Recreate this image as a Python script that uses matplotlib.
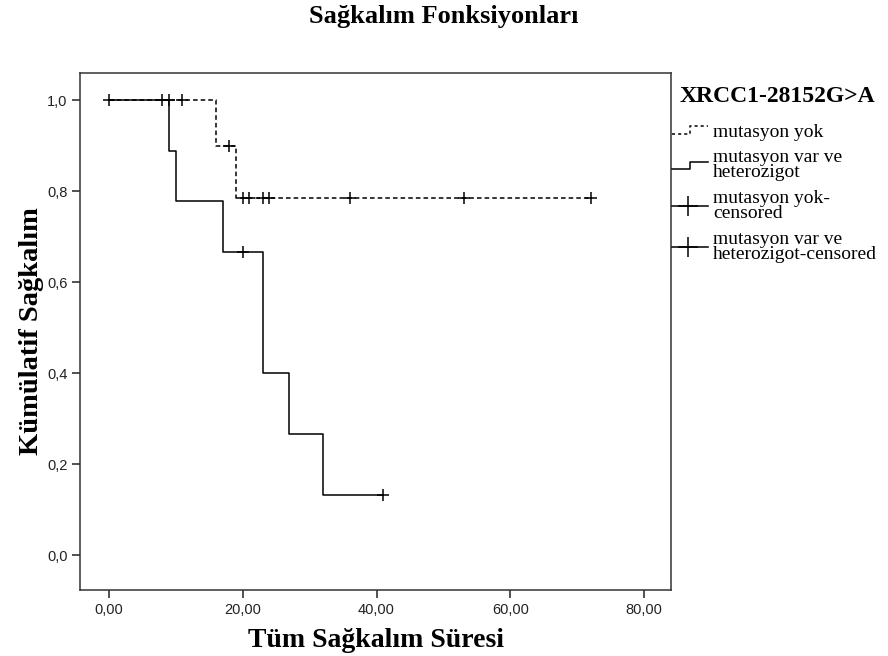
import matplotlib
matplotlib.use("Agg")
import matplotlib.pyplot as plt
from matplotlib.lines import Line2D
from matplotlib.legend_handler import HandlerBase

# Kaplan-Meier steps
yok_t = [0, 16, 19, 72]
yok_s = [1.0, 0.9, 0.786, 0.786]
yok_cens_t = [0, 8, 9, 11, 18, 20, 21, 23, 24, 36, 53, 72]
yok_cens_s = [1.0, 1.0, 1.0, 1.0, 0.9, 0.786, 0.786, 0.786, 0.786, 0.786, 0.786, 0.786]

var_t = [0, 9, 10, 17, 23, 27, 32, 41]
var_s = [1.0, 0.889, 0.778, 0.667, 0.4, 0.267, 0.133, 0.133]
var_cens_t = [20, 41]
var_cens_s = [0.667, 0.133]

xticks = [0, 20, 40, 60, 80]
yticks = [0.0, 0.2, 0.4, 0.6, 0.8, 1.0]
labels = ["mutasyon yok", "mutasyon var ve\nheterozigot",
          "mutasyon yok-\ncensored", "mutasyon var ve\nheterozigot-censored"]

serif = "Liberation Serif"
sans = "Liberation Sans"
W, H = 888, 656

fig = plt.figure(figsize=(W / 100, H / 100), dpi=100)
ax = fig.add_axes([80 / W, 1 - 590 / H, 591 / W, 517 / H])

ax.step(yok_t, yok_s, where="post", color="black", lw=1.1, ls=(0, (3, 2)))
ax.step(var_t, var_s, where="post", color="black", lw=1.1)
ax.plot(yok_cens_t, yok_cens_s, ls="none", marker="+", ms=8, mew=1.1, color="black")
ax.plot(var_cens_t, var_cens_s, ls="none", marker="+", ms=8, mew=1.1, color="black")

ax.set_xlim(-4.3, 84.0)
ax.set_ylim(-0.076, 1.060)
ax.set_xticks(xticks)
ax.set_xticklabels([f"{v:.2f}".replace(".", ",") for v in xticks], fontfamily=sans, fontsize=10.5)
ax.set_yticks(yticks)
ax.set_yticklabels([f"{v:.1f}".replace(".", ",") for v in yticks], fontfamily=sans, fontsize=10.5)
ax.tick_params(direction="out", length=6, width=1.1, colors="#222222", pad=3)
for sp in ax.spines.values():
    sp.set_color("#333333")
    sp.set_linewidth(1.1)

ax.set_xlabel("Tüm Sağkalım Süresi", fontfamily=serif, fontweight="bold", fontsize=20, labelpad=8)
ax.set_ylabel("Kümülatif Sağkalım", fontfamily=serif, fontweight="bold", fontsize=20.5, labelpad=2)
fig.text(0.5, 1 - 16 / H, "Sağkalım Fonksiyonları", fontfamily=serif, fontweight="bold",
         fontsize=19, ha="center", va="center")


class StepHandler(HandlerBase):
    def __init__(self, ls):
        super().__init__()
        self.ls = ls

    def create_artists(self, legend, orig_handle, xdescent, ydescent, width, height, fontsize, trans):
        x0 = -xdescent
        lo = -ydescent + height * 0.2
        hi = -ydescent + height * 0.75
        xs = [x0, x0 + width * 0.5, x0 + width * 0.5, x0 + width]
        ys = [lo, lo, hi, hi]
        ln = Line2D(xs, ys, color="black", lw=1.1, ls=self.ls, transform=trans)
        return [ln]


class CensHandler(HandlerBase):
    def create_artists(self, legend, orig_handle, xdescent, ydescent, width, height, fontsize, trans):
        x0 = -xdescent
        yc = -ydescent + height * 0.5
        ln = Line2D([x0, x0 + width], [yc, yc], color="black", lw=1.1, transform=trans)
        mk = Line2D([x0 + width * 0.45], [yc], marker="+", ms=15, mew=1.1, color="black", transform=trans)
        return [ln, mk]


fig.text(680 / W, 1 - 97 / H, "XRCC1-28152G>A", fontfamily=serif, fontweight="bold",
         fontsize=17, ha="left", va="center")

h = [Line2D([], []), Line2D([], []), Line2D([], []), Line2D([], [])]
leg = fig.legend(h, labels,
                 handler_map={h[0]: StepHandler((0, (2, 2))), h[1]: StepHandler("-"),
                              h[2]: CensHandler(), h[3]: CensHandler()},
                 loc="upper left", bbox_to_anchor=(672 / W, 1 - 123 / H), frameon=False,
                 borderaxespad=0, borderpad=0, handlelength=1.85, handletextpad=0.25,
                 labelspacing=0.45, prop={"family": serif, "size": 14})
for t in leg.get_texts():
    t.set_linespacing(0.85)

fig.savefig("out.png", dpi=100)
